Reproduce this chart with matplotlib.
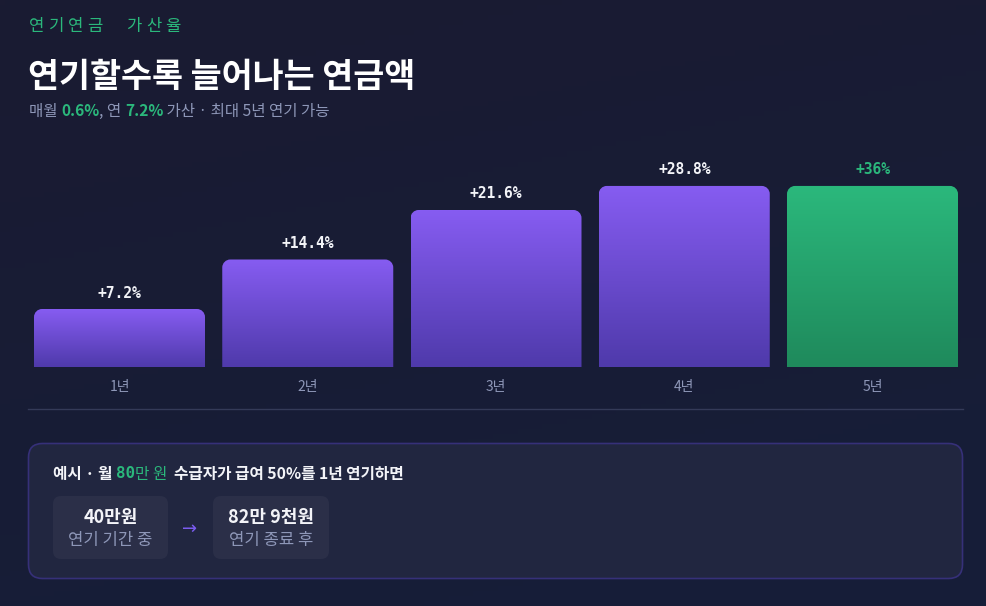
import numpy as np
import matplotlib
matplotlib.use("Agg")
import matplotlib.pyplot as plt
from matplotlib.patches import FancyBboxPatch, PathPatch
from matplotlib.path import Path
from matplotlib.colors import LinearSegmentedColormap

# ---------------- data ----------------
years = ["1년", "2년", "3년", "4년", "5년"]
increase_pct = [7.2, 14.4, 21.6, 28.8, 36.0]
value_labels = ["+7.2%", "+14.4%", "+21.6%", "+28.8%", "+36%"]
display_cap = 25.1          # bar heights are capped in the reference
eyebrow = "연기연금 가산율"
title = "연기할수록 늘어나는 연금액"
example_before = ("40만원", "연기 기간 중")
example_after = ("82만 9천원", "연기 종료 후")

# ---------------- style ----------------
KR = ["Noto Sans CJK KR", "DejaVu Sans"]
MONO = ["DejaVu Sans Mono"]
GREEN = "#2bb87c"
GRAY = "#8e97b8"
WHITE = "#f3f4f8"

W, H = 986, 606
fig = plt.figure(figsize=(W / 100, H / 100), dpi=100)

# background axes in pixel coords
bg = fig.add_axes([0, 0, 1, 1])
bg.set_xlim(0, W)
bg.set_ylim(H, 0)
bg.axis("off")
c1 = np.array([26, 27, 50]) / 255
c2 = np.array([22, 30, 57]) / 255
yy, xx = np.mgrid[0:1:120j, 0:1:200j]
t = np.clip(0.75 * yy + 0.25 * xx, 0, 1)[..., None]
bg.imshow(c1 * (1 - t) + c2 * t, extent=[0, W, H, 0], aspect="auto", zorder=0)

fig.canvas.draw()
renderer = fig.canvas.get_renderer()


def chain(x, y, parts, **common):
    """Draw consecutive text pieces: parts = [(text, dict(style)), ...]"""
    for txt, kw in parts:
        opts = dict(common)
        opts.update(kw)
        tt = bg.text(x, y, txt, va="center", ha="left", **opts)
        ext = tt.get_window_extent(renderer=renderer)
        x += ext.width
    return x


# eyebrow with letter spacing
pitch = 19.5
for i, ch in enumerate(eyebrow):
    bg.text(29 + i * pitch, 26, ch, family=KR, fontsize=12, color=GREEN,
            va="center", ha="left")

bg.text(28, 76, title, family=KR, fontsize=24.3, fontweight="bold",
        color="white", va="center", ha="left")

chain(29, 111, [
    ("매월 ", dict(color=GRAY)),
    ("0.6%", dict(color=GREEN, fontweight="bold")),
    (", 연 ", dict(color=GRAY)),
    ("7.2%", dict(color=GREEN, fontweight="bold")),
    (" 가산 · 최대 5년 연기 가능", dict(color=GRAY)),
], family=KR, fontsize=11.2)

# ---------------- bars ----------------
L, R, BASE, TOP = 28, 963, 367, 140
ax = fig.add_axes([L / W, (H - BASE) / H, (R - L) / W, (BASE - TOP) / H])
ax.axis("off")
px_per_unit_x = 188.25
px_per_unit_y = 6.875
floor = -8.5 / px_per_unit_y
x0 = -(119.5 - L) / px_per_unit_x
ax.set_xlim(x0, x0 + (R - L) / px_per_unit_x)
ax.set_ylim(floor, floor + (BASE - TOP) / px_per_unit_y)
ax.patch.set_alpha(0)

bar_w = 171 / px_per_unit_x
rad_px = 8
rx = rad_px / px_per_unit_x
ry = rad_px / px_per_unit_y

purple_cm = LinearSegmentedColormap.from_list("p", ["#4f3aab", "#865cf1"])
green_cm = LinearSegmentedColormap.from_list("g", ["#1f8a5c", "#2bb87c"])

heights = np.minimum(increase_pct, display_cap)
xs = np.arange(len(years))
for i, (xc, h) in enumerate(zip(xs, heights)):
    l, r = xc - bar_w / 2, xc + bar_w / 2
    k = 0.5523
    verts = [
        (l, floor), (r, floor), (r, h - ry),
        (r, h - ry + k * ry), (r - rx + k * rx, h), (r - rx, h),
        (l + rx, h),
        (l + rx - k * rx, h), (l, h - ry + k * ry), (l, h - ry),
        (l, floor), (l, floor),
    ]
    codes = [Path.MOVETO, Path.LINETO, Path.LINETO,
             Path.CURVE4, Path.CURVE4, Path.CURVE4,
             Path.LINETO,
             Path.CURVE4, Path.CURVE4, Path.CURVE4,
             Path.LINETO, Path.CLOSEPOLY]
    patch = PathPatch(Path(verts, codes), facecolor="none", edgecolor="none")
    ax.add_patch(patch)
    cm = green_cm if i == len(xs) - 1 else purple_cm
    grad = np.linspace(1, 0, 100).reshape(-1, 1)
    im = ax.imshow(grad, cmap=cm, extent=[l, r, floor, h], aspect="auto",
                   origin="upper", zorder=2)
    im.set_clip_path(patch)
    col = GREEN if i == len(xs) - 1 else WHITE
    ax.annotate(value_labels[i], (xc, h), xytext=(0, 16 * 0.72),
                textcoords="offset points", ha="center", va="center",
                family=MONO, fontweight="bold", fontsize=10.5, color=col)
    ax.annotate(years[i], (xc, floor), xytext=(0, -20 * 0.72),
                textcoords="offset points", ha="center", va="center",
                family=KR, fontsize=10, color=GRAY)

ax.set_xticks([])
ax.set_yticks([])

# divider
bg.plot([28, 963], [409, 409], color="#343a58", lw=1, zorder=1)

# ---------------- example box ----------------
bg.add_patch(FancyBboxPatch((28.5, 443.5), 934, 135,
                            boxstyle="round,pad=0,rounding_size=14",
                            facecolor="#212640", edgecolor="#363079", lw=1.2,
                            zorder=1))
chain(53, 474, [
    ("예시 · 월 ", dict(color=WHITE, fontweight="bold", family=KR)),
    ("80", dict(color=GREEN, fontweight="bold", family=MONO)),
    ("만 원  ", dict(color=GREEN, family=KR)),
    ("수급자가 급여 50%를 1년 연기하면", dict(color=WHITE, fontweight="bold", family=KR)),
], fontsize=11.3)

for (bx, bw), (big, small) in zip([(53, 115), (213, 116)], [example_before, example_after]):
    bg.add_patch(FancyBboxPatch((bx, 496), bw, 63,
                                boxstyle="round,pad=0,rounding_size=8",
                                facecolor="#2b2f48", edgecolor="none", zorder=2))
    cx = bx + bw / 2
    bg.text(cx, 518, big, family=KR, fontsize=13, fontweight="bold",
            color=WHITE, ha="center", va="center", zorder=3)
    bg.text(cx, 541, small, family=KR, fontsize=12, color=GRAY,
            ha="center", va="center", zorder=3)

bg.text(190, 529, "→", family=["DejaVu Sans"], fontsize=13, color="#7b5cf0",
        ha="center", va="center", zorder=3)

fig.savefig("out.png", dpi=100)
